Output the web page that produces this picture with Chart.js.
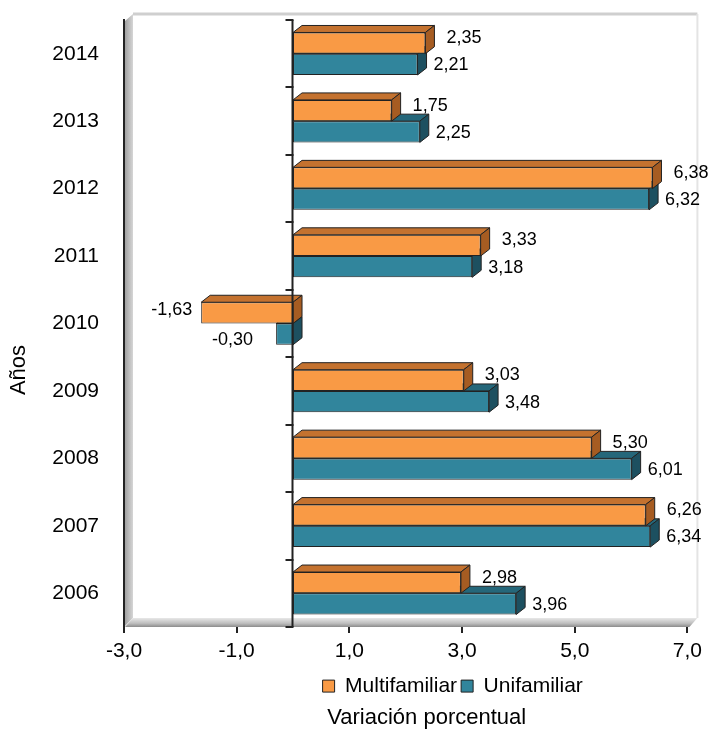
<!DOCTYPE html>
<html>
<head>
<meta charset="utf-8">
<script src="https://cdn.jsdelivr.net/npm/chart.js@4"></script>
<style>
  body { margin: 0; background: #fff; }
  #wrap { width: 708px; height: 731px; position: relative; }
</style>
</head>
<body>
<div id="wrap"><canvas id="chart"></canvas></div>
<script>
// datos
const years = ['2006', '2007', '2008', '2009', '2010', '2011', '2012', '2013', '2014'];
const multifamiliar = [2.98, 6.26, 5.30, 3.03, -1.63, 3.33, 6.38, 1.75, 2.35];
const unifamiliar = [3.96, 6.34, 6.01, 3.48, -0.30, 3.18, 6.32, 2.25, 2.21];
const xTicks = [-3, -1, 1, 3, 5, 7];

const FONT = "'Liberation Sans', Arial, sans-serif";
const DX = 9, DY = 7;  // profundidad del efecto 3D

const faceColors = [
    { top: '#c4722f', side: '#a65c22' },  // Multifamiliar
    { top: '#25677a', side: '#1d5060' }   // Unifamiliar
];

function fmt(v, d) {
    return v.toFixed(d).replace('.', ',');
}

function poly(ctx, pts, fill) {
    ctx.beginPath();
    ctx.moveTo(pts[0][0], pts[0][1]);
    for (let i = 1; i < pts.length; i++) ctx.lineTo(pts[i][0], pts[i][1]);
    ctx.closePath();
    ctx.fillStyle = fill;
    ctx.fill();
    ctx.strokeStyle = '#222';
    ctx.lineWidth = 1;
    ctx.stroke();
}

// paredes, caras 3D, línea de cero y etiquetas
const decor = {
    id: 'decor',
    afterLayout(chart) {
        // leyenda y título del original están corridos a la derecha
        const lg = chart.legend;
        lg.left += 47;
        lg.right += 47;
        lg.top += 2;
        lg.bottom += 2;
        const tb = chart.titleBlock;
        tb.left += 21;
        tb.right += 21;
    },
    beforeDatasetsDraw(chart) {
        const { ctx, chartArea: a } = chart;
        const L = a.left, R = a.right, T = a.top, B = a.bottom;
        ctx.save();
        // pared izquierda
        let g = ctx.createLinearGradient(L, 0, L + DX, 0);
        g.addColorStop(0, '#9a9a9a');
        g.addColorStop(1, '#d6d6d6');
        ctx.fillStyle = g;
        ctx.beginPath();
        ctx.moveTo(L + 1, T + 1);
        ctx.lineTo(L + DX, T - 6);
        ctx.lineTo(L + DX, B - DY - 2);
        ctx.lineTo(L + 1, B - 1);
        ctx.closePath();
        ctx.fill();
        // piso
        g = ctx.createLinearGradient(0, B - DY - 2, 0, B);
        g.addColorStop(0, '#e8e8e8');
        g.addColorStop(0.6, '#bdbdbd');
        g.addColorStop(1, '#8c8c8c');
        ctx.fillStyle = g;
        ctx.beginPath();
        ctx.moveTo(L + 1, B);
        ctx.lineTo(L + DX, B - DY - 2);
        ctx.lineTo(R + DX + 1, B - DY - 2);
        ctx.lineTo(R + 2, B);
        ctx.closePath();
        ctx.fill();
        // borde de la pared del fondo
        ctx.strokeStyle = '#cfcfcf';
        ctx.lineWidth = 3;
        ctx.beginPath();
        ctx.moveTo(L + DX, T - 6);
        ctx.lineTo(R + DX + 1, T - 6);
        ctx.stroke();
        ctx.strokeStyle = '#e4e4e4';
        ctx.lineWidth = 2;
        ctx.beginPath();
        ctx.moveTo(R + DX + 1, T - 6);
        ctx.lineTo(R + DX + 1, B - DY - 2);
        ctx.stroke();
        ctx.restore();
    },
    afterDatasetDraw(chart, args) {
        const { ctx } = chart;
        const col = faceColors[args.index];
        ctx.save();
        args.meta.data.forEach(bar => {
            const p = bar.getProps(['x', 'y', 'base', 'height'], true);
            const l = Math.min(p.x, p.base), r = Math.max(p.x, p.base);
            const t = p.y - p.height / 2, b = p.y + p.height / 2;
            poly(ctx, [[l, t], [l + DX, t - DY], [r + DX, t - DY], [r, t]], col.top);
            poly(ctx, [[r, t], [r + DX, t - DY], [r + DX, b - DY], [r, b]], col.side);
        });
        ctx.restore();
    },
    afterDatasetsDraw(chart) {
        const { ctx, chartArea: a, scales } = chart;
        const x0 = Math.round(scales.x.getPixelForValue(0)) - 0.5;
        ctx.save();
        // línea de cero con sus marcas
        ctx.strokeStyle = '#222';
        ctx.lineWidth = 2;
        ctx.beginPath();
        ctx.moveTo(x0, a.top);
        ctx.lineTo(x0, a.bottom);
        ctx.stroke();
        const step = (a.bottom - a.top) / years.length;
        for (let i = 0; i <= years.length; i++) {
            const yy = Math.round(a.top + i * step);
            ctx.beginPath();
            ctx.moveTo(x0 - 7, yy);
            ctx.lineTo(x0 + 1, yy);
            ctx.stroke();
        }
        // etiquetas de datos
        ctx.font = '18px ' + FONT;
        ctx.fillStyle = '#000';
        ctx.textBaseline = 'middle';
        chart.data.datasets.forEach((ds, di) => {
            chart.getDatasetMeta(di).data.forEach((bar, i) => {
                const v = ds.data[i];
                const p = bar.getProps(['x', 'y'], true);
                if (v >= 0) {
                    ctx.textAlign = 'left';
                    if (di === 0) ctx.fillText(fmt(v, 2), p.x + 21, p.y - 5);
                    else ctx.fillText(fmt(v, 2), p.x + 16, p.y + 1);
                } else {
                    ctx.textAlign = 'right';
                    if (di === 0) ctx.fillText(fmt(v, 2), p.x - 9, p.y - 3);
                    else ctx.fillText(fmt(v, 2), p.x - 23, p.y + 6);
                }
            });
        });
        ctx.restore();
    },
    afterDraw(chart) {
        const { ctx } = chart;
        ctx.save();
        ctx.translate(19, 370);
        ctx.rotate(-Math.PI / 2);
        ctx.font = '22px ' + FONT;
        ctx.fillStyle = '#000';
        ctx.textAlign = 'center';
        ctx.textBaseline = 'middle';
        ctx.fillText('Años', 0, 0);
        ctx.restore();
    }
};

Chart.defaults.font.family = FONT;
Chart.defaults.color = '#000';

new Chart(document.getElementById('chart'), {
    type: 'bar',
    data: {
        labels: years,
        datasets: [
            {
                label: 'Multifamiliar',
                data: multifamiliar,
                backgroundColor: '#f99a45',
                borderColor: '#222',
                borderWidth: 1,
                borderSkipped: false
            },
            {
                label: 'Unifamiliar',
                data: unifamiliar,
                backgroundColor: '#31859c',
                borderColor: '#222',
                borderWidth: 1,
                borderSkipped: false
            }
        ]
    },
    options: {
        indexAxis: 'y',
        responsive: true,
        maintainAspectRatio: false,
        animation: false,
        layout: { padding: { top: 20, right: 20, left: 0, bottom: 0 } },
        datasets: {
            bar: { categoryPercentage: 0.63, barPercentage: 1 }
        },
        scales: {
            x: {
                min: xTicks[0],
                max: xTicks[xTicks.length - 1],
                afterBuildTicks: s => { s.ticks = xTicks.map(v => ({ value: v })); },
                afterFit: s => { s.height = 42.6; },
                ticks: {
                    font: { size: 21 },
                    padding: 6,
                    callback: v => fmt(v, 1)
                },
                grid: {
                    drawOnChartArea: false,
                    tickLength: 6,
                    color: '#222',
                    lineWidth: 2
                },
                border: { display: false }
            },
            y: {
                reverse: true,
                afterFit: s => {
                    s.width = 124;
                    s.paddingTop = 0;
                    s.paddingBottom = 0;
                },
                ticks: { font: { size: 21 }, padding: 17 },
                grid: { display: false },
                border: { display: true, color: '#222', width: 2 }
            }
        },
        plugins: {
            legend: {
                position: 'bottom',
                fullSize: false,
                labels: {
                    font: { size: 21 },
                    boxWidth: 12,
                    boxHeight: 12,
                    padding: 4
                }
            },
            title: {
                display: true,
                position: 'bottom',
                fullSize: false,
                text: 'Variación porcentual',
                font: { size: 22, weight: 'normal' },
                color: '#000',
                padding: { top: 0, bottom: 0 }
            },
            tooltip: { enabled: false }
        }
    },
    plugins: [decor]
});
</script>
</body>
</html>
